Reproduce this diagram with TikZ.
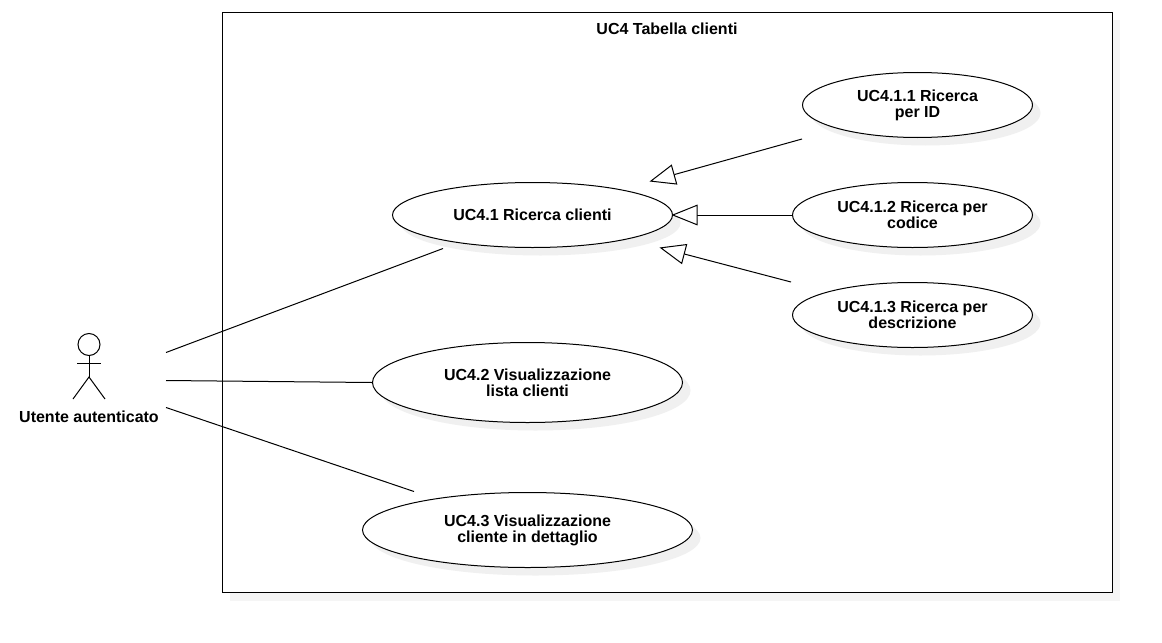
\documentclass[tikz,border=0pt]{standalone}
\usepackage{fontspec}
\setmainfont{Liberation Sans}
\usetikzlibrary{arrows.meta,shapes.geometric,shadows}
\tikzset{
  usecase/.style={draw,ellipse,fill=white,inner sep=0pt,align=center,
    font=\fontsize{12}{12}\selectfont\bfseries,
    drop shadow={shadow xshift=6pt,shadow yshift=-6pt,fill=black!6,opacity=1}},
  txt/.style={inner sep=0pt,align=center,font=\fontsize{12}{12}\selectfont\bfseries},
  general/.style={-{Triangle[open,fill=white,length=19.5pt,width=15.5pt]}},
}
\begin{document}
\begin{tikzpicture}[x=0.75pt,y=-0.75pt,line width=0.75pt]
\useasboundingbox (0,0) rectangle (1162,642);
% system frame
\fill[black!4] (230,20.5) rectangle (1120,600.5);
\draw[fill=white] (222,12.5) rectangle (1112,592.5);
\node[txt] (title) at (667,28.5) {UC4 Tabella clienti};
% use cases
\node[usecase,minimum width=172.5pt,minimum height=48.75pt] (uc411) at (917.5,105) {UC4.1.1 Ricerca\\per ID};
\node[usecase,minimum width=180pt,minimum height=48.75pt] (uc412) at (912.5,215) {UC4.1.2 Ricerca per\\codice};
\node[usecase,minimum width=180pt,minimum height=48.75pt] (uc413) at (912.5,315) {UC4.1.3 Ricerca per\\descrizione};
\node[usecase,minimum width=210pt,minimum height=48.75pt] (uc41) at (532.5,215) {UC4.1 Ricerca clienti};
\node[usecase,minimum width=232.5pt,minimum height=60pt] (uc42) at (527.5,382.5) {UC4.2 Visualizzazione\\lista clienti};
\node[usecase,minimum width=247.5pt,minimum height=56.25pt] (uc43) at (527.5,530) {UC4.3 Visualizzazione\\cliente in dettaglio};
% actor
\node[draw,circle,minimum size=16.5pt,inner sep=0pt] (head) at (89,344.5) {};
\coordinate (hip) at (89,377);
\coordinate (armL) at (77,363);
\coordinate (armR) at (101,363);
\coordinate (legL) at (73,399);
\coordinate (legR) at (105,399);
\draw (head) -- (hip);
\draw (armL) -- (armR);
\draw (legL) -- (hip) -- (legR);
\node[txt] (actor) at (89,416.5) {Utente autenticato};
% associations
\coordinate (a1) at (166,352.5);
\coordinate (a2) at (166,380.5);
\coordinate (a3) at (166,407.5);
\coordinate (e1) at (443,248.5);
\coordinate (e2) at (uc42.west);
\coordinate (e3) at (414,491.5);
\draw (a1) -- (e1);
\draw (a2) -- (e2);
\draw (a3) -- (e3);
% generalizations
\coordinate (s1) at (802,139);
\coordinate (t1) at (649.5,181.5);
\coordinate (t2) at (671.5,215);
\coordinate (s3) at (791,282);
\coordinate (t3) at (659.5,247.5);
\draw[general] (s1) -- (t1);
\draw[general] (uc412.west) -- (t2);
\draw[general] (s3) -- (t3);
\end{tikzpicture}
\end{document}
